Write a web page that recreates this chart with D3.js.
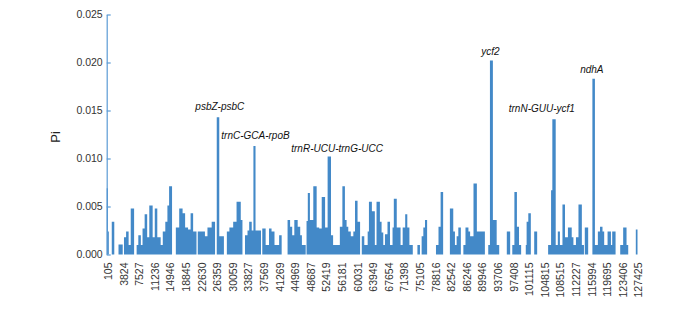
<!DOCTYPE html>
<html><head><meta charset="utf-8">
<script src="https://cdn.jsdelivr.net/npm/d3@7"></script>
<style>
html,body{margin:0;padding:0;background:#fff;}
svg{display:block;font-family:"Liberation Sans",Arial,sans-serif;}
</style></head>
<body><svg id="chart" width="685" height="309"></svg>
<script>
// ---- data ----
const windowCount = 1259;          // sliding windows along the alignment
const tickEvery = 37;              // a label every 37 windows
const tickLabels = ["105","3824","7527","11236","14946","18845","22630","26359","30059","33827",
  "37569","41269","44969","48687","52419","56181","60031","63949","67654","71398","75105",
  "78816","82542","86246","89946","93706","97408","101115","104815","108515","112227",
  "115994","119695","123406","127425"];
const yTicks = [0, 0.005, 0.010, 0.015, 0.020, 0.025];
// runs of constant Pi: first window of each run, and its Pi value
const runStart = [0,3,5,12,18,28,38,41,46,52,57,65,71,75,81,85,90,96,101,109,114,120,128,133,139,144,148,155,
  164,172,180,186,193,199,205,213,216,233,239,249,257,261,267,278,285,291,300,308,318,322,328,334,338,344,348,353,
  366,369,377,385,391,398,409,415,429,435,440,445,453,459,463,472,474,477,482,490,498,504,510,518,524,532,537,
  553,559,565,569,573,579,585,589,595,601,605,611,619,622,629,636,640,648,652,656,660,666,672,678,681,688,697,
  702,708,713,718,726,737,743,747,751,755,760,781,787,792,798,814,822,826,830,834,840,846,851,858,862,870,878,
  897,905,909,916,925,931,949,957,962,967,973,978,983,994,996,1000,1006,1014,1021,1047,1054,1057,1065,1070,1075,
  1081,1087,1094,1103,1107,1113,1119,1127,1132,1134,1142,1152,1158,1165,1170,1176,1180,1188,1196,1199,1207,1218,
  1225,1233,1237,1255];
const runPi = [0.0069,0.0024,0,0.0034,0,0.00105,0,0.0018,0.0024,0.0010,0.0048,0,0.0010,0.0020,0.0010,0.0027,0.0042,
  0.0018,0.0051,0.0018,0.0048,0.0018,0.0010,0.0024,0.0034,0.0051,0.0071,0,
  0.0028,0.0048,0.0043,0.0028,0.0026,0.0043,0.0024,0,0.0024,0.0019,0.0028,0.0034,0,0.0143,0.0019,0,0.0024,0.0028,
  0.0034,0.0055,0.0036,0,0.0020,0.0025,0.0034,0.0025,0.0113,0.0025,
  0,0.0027,0.0010,0.0027,0.0024,0.0010,0.0020,0,0.0036,0.0029,0.0020,0.0036,0.0029,0.0020,0.0010,0,0.0035,0.0064,
  0.0036,0.0071,0.0028,0.0027,0.0060,0.0028,0.0102,0.0020,0.0010,
  0.0029,0.0071,0.0036,0.0029,0.0024,0.0019,0.0024,0.0056,0.0034,0,0.0019,0.0010,0.0024,0.0055,0.0045,0.0010,
  0.0055,0.0034,0.0023,0.0010,0.0021,0.0034,0.0010,0.0028,0.0058,0.0028,0.0010,
  0.0028,0.0042,0.0028,0.0010,0,0.0010,0,0.0019,0.0028,0.0036,0,0.0010,0.0029,0.0065,0,0.0048,0.0024,0.0010,
  0.0019,0.0028,0,0.0010,0.0028,0.0024,0.0019,0.0074,0.0024,
  0,0.0010,0.0202,0.0036,0.0010,0,0.0024,0,0.0010,0.0065,0.0029,0.0010,0,0.0010,0.0034,0.0043,0,0.0024,0,0.0010,
  0.0067,0.0141,0.0010,0.0024,0.0010,
  0.0052,0.0018,0.0028,0.0018,0.0010,0.0018,0.0052,0.0010,0,0.0028,0,0.0183,0.0010,0.0024,0.0029,0.0024,0.0010,
  0.0024,0.0010,0.0024,0,0.0010,
  0.0028,0.0010,0,0.0026];
const annoText = ["psbZ-psbC","trnC-GCA-rpoB","trnR-UCU-trnG-UCC","ycf2","trnN-GUU-ycf1","ndhA"];
const annoWindow = [263, 350, 527, 912, 1060, 1155];

// ---- layout / style (not data) ----
const annoDx = [2, 1, 8, -1, -12, -2];
const annoDy = [7, 7, 5, 5.7, 7.3, 6.3];
const barColor = "#4389c8";
const axisColor = "#5b9bd5";
const textColor = "#333";

// expand runs into per-window values
const pi = new Array(windowCount).fill(0);
runStart.forEach((s, k) => {
  const e = k + 1 < runStart.length ? runStart[k + 1] : windowCount;
  for (let i = s; i < e; i++) pi[i] = runPi[k];
});
const data = pi.map((v, i) => ({ i, v }));

const svg = d3.select("#chart");
const x = d3.scaleBand().domain(d3.range(windowCount)).range([106.7, 637.5]).padding(0);
const bw = x.bandwidth();
const y = d3.scaleLinear().domain([0, 0.025]).range([254.5, 14.5]);

// bars (one step per window)
const stepData = data.concat([{ i: windowCount, v: pi[windowCount - 1] }]);
const area = d3.area()
  .x(d => d.i < windowCount ? x(d.i) : x(windowCount - 1) + bw)
  .y0(y(0))
  .y1(d => y(d.v))
  .curve(d3.curveStepAfter);
svg.append("path").datum(stepData).attr("d", area).attr("fill", barColor);

// y axis
const yAxis = d3.axisLeft(y).tickValues(yTicks).tickFormat(d3.format(".3f"))
  .tickSizeInner(-4).tickSizeOuter(0).tickPadding(4);
const gy = svg.append("g").attr("transform", "translate(106.7,0)").call(yAxis);
gy.select(".domain").attr("stroke", axisColor).attr("stroke-width", 1.2);
gy.selectAll(".tick line").attr("stroke", axisColor).attr("stroke-width", 1.2);
gy.selectAll(".tick text").attr("fill", textColor).style("font-size", "10.5px")
  .style("font-family", '"Liberation Sans",Arial,sans-serif');

// y title
svg.append("text").attr("transform", "translate(60,137) rotate(-90)")
  .attr("text-anchor", "middle").attr("fill", "#222").style("font-size", "13px").text("Pi");

// x tick labels
svg.append("g").selectAll("text").data(tickLabels).join("text")
  .attr("transform", (d, k) => `translate(${x(k * tickEvery) + bw / 2 + 1.5},262.5) rotate(-90)`)
  .attr("text-anchor", "end").attr("dy", "0.35em")
  .attr("fill", textColor).style("font-size", "10.5px").text(d => d);

// annotations
svg.append("g").selectAll("text").data(annoText).join("text")
  .attr("x", (d, k) => x(annoWindow[k]) + bw / 2 + annoDx[k])
  .attr("y", (d, k) => y(pi[annoWindow[k]]) - annoDy[k])
  .attr("text-anchor", "middle").attr("font-style", "italic")
  .attr("fill", "#111").style("font-size", "10px").text(d => d);
</script></body></html>
